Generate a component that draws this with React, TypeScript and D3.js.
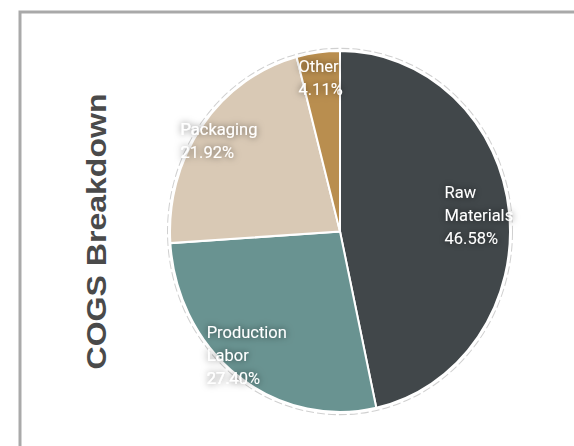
import React from "react";
import * as d3 from "d3";

const categories = ["Raw Materials", "Production Labor", "Packaging", "Other"];
const values = [34, 20, 16, 3];
const colors = ["#41474a", "#699391", "#d9c9b5", "#b98e4f"];
const title = "COGS Breakdown";

const W = 574;
const H = 446;

export default function App() {
  const cx = 340;
  const cy = 231.5;
  const r = 170;
  const sy = 180.5 / 170;
  const total = d3.sum(values);
  const pie = d3.pie<number>().sort(null).value((d) => d);
  const arcs = pie(values);
  const arc = d3.arc<d3.PieArcDatum<number>>().innerRadius(0).outerRadius(r);
  const lr = r * 0.86;
  const labelArc = d3.arc<d3.PieArcDatum<number>>().innerRadius(lr).outerRadius(lr);
  const fmt = d3.format(".2%");
  const fs = 16.5;
  const lh = 23;

  return (
    <svg width={W} height={H} style={{ position: "fixed", left: 0, top: 0, background: "#fff" }}>
      <defs>
        <filter id="ts" x="-30%" y="-30%" width="160%" height="160%">
          <feGaussianBlur in="SourceAlpha" stdDeviation="3.5" result="b" />
          <feFlood floodColor="#000" floodOpacity="0.6" />
          <feComposite in2="b" operator="in" result="s" />
          <feMerge>
            <feMergeNode in="s" />
            <feMergeNode in="SourceGraphic" />
          </feMerge>
        </filter>
      </defs>
      <rect x={20} y={12} width={W} height={H} fill="none" stroke="#a9a9a9" strokeWidth={3} />
      <text
        transform={`translate(106,${cy}) rotate(-90)`}
        textAnchor="middle"
        fontFamily="Liberation Sans, Arial, sans-serif"
        fontWeight="bold"
        fontSize={27}
        fill="#4a4a4a"
        textLength={276}
        lengthAdjust="spacingAndGlyphs"
      >
        {title}
      </text>
      <g transform={`translate(${cx},${cy}) scale(1,${sy})`}>
        <circle r={r + 2.5} fill="none" stroke="#d0d0d0" strokeWidth={1} strokeDasharray="8 3" />
        {arcs.map((a, i) => (
          <path key={i} d={arc(a) || ""} fill={colors[i]} stroke="#fff" strokeWidth={2} />
        ))}
      </g>
      {arcs.map((a, i) => {
        const [lx, ly] = labelArc.centroid(a);
        const words = categories[i].split(" ");
        const lines = i === 3 || i === 2 ? [categories[i], fmt(a.data / total)] : [...words, fmt(a.data / total)];
        const maxLen = d3.max(lines, (l) => l.length) || 1;
        const bw = maxLen * fs * 0.55;
        const x0 = cx + lx - bw / 2;
        const y0 = cy + ly * sy - ((lines.length - 1) * lh) / 2 + fs * 0.35;
        return (
          <text key={i} fontFamily="Roboto, sans-serif" fontSize={fs} fill="#fff" filter="url(#ts)">
            {lines.map((l, j) => (
              <tspan key={j} x={x0} y={y0 + j * lh}>
                {l}
              </tspan>
            ))}
          </text>
        );
      })}
    </svg>
  );
}
